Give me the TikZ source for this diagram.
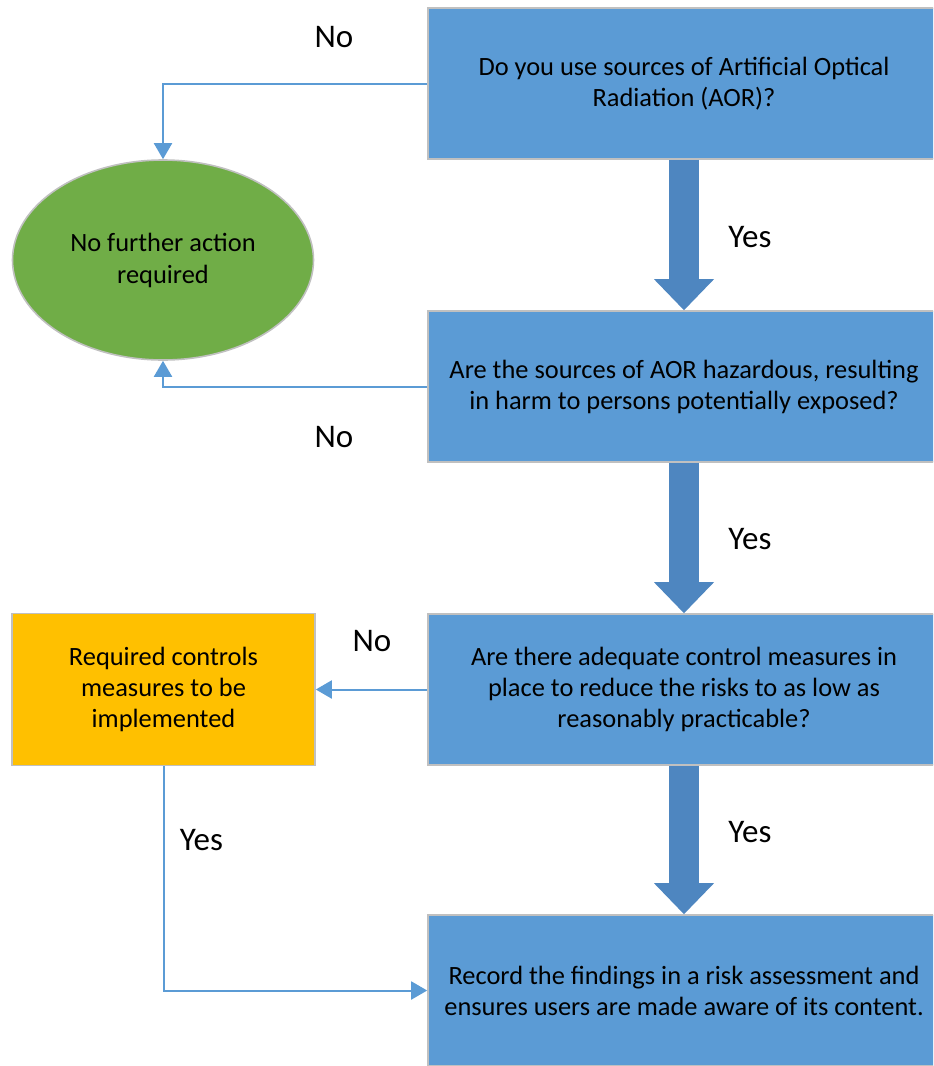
\documentclass[tikz,border=0pt]{standalone}
\usepackage{fontspec}
\setmainfont{Carlito}
\usetikzlibrary{arrows.meta,shapes.geometric}
\definecolor{boxblue}{HTML}{5B9BD5}
\definecolor{arrowblue}{HTML}{4E86C0}
\definecolor{okgreen}{HTML}{70AD47}
\definecolor{todoorange}{HTML}{FFC000}
\definecolor{edgegray}{HTML}{C0C0C0}
\tikzset{
  question/.style={draw=edgegray,fill=boxblue,line width=0.8pt,
    minimum width=256pt,minimum height=75.5pt,inner sep=0pt,
    align=center,font=\fontsize{13.2}{15.5}\selectfont},
  endpoint/.style={ellipse,draw=edgegray,fill=okgreen,line width=0.8pt,
    minimum width=150.5pt,minimum height=100pt,inner sep=0pt,
    align=center,font=\fontsize{13.2}{16}\selectfont},
  actionbox/.style={draw=edgegray,fill=todoorange,line width=0.8pt,
    minimum width=151.5pt,minimum height=76pt,inner sep=0pt,
    align=center,font=\fontsize{13.2}{15.5}\selectfont},
  answer/.style={font=\fontsize{16.5}{18}\selectfont,inner sep=0pt},
  flow/.style={draw=boxblue,line width=1pt,
    -{Triangle[length=8pt,width=9pt]}},
  bigflow/.style={draw=arrowblue,line width=15pt,
    -{Triangle[length=15.5pt,width=30pt,line width=0pt]}},
}
\begin{document}
\begin{tikzpicture}[x=0.5pt,y=-0.5pt]
\useasboundingbox (0,0) rectangle (933,1066);
\clip (0,0) rectangle (933,1066);

% questions down the right
\node [question] (q1) at (684,83.5) {Do you use sources of Artificial Optical\\Radiation (AOR)?};
\node [question] (q2) at (684,386.5) {Are the sources of AOR hazardous, resulting\\in harm to persons potentially exposed?};
\node [question] (q3) at (684,689.5) {Are there adequate control measures in\\place to reduce the risks to as low as\\reasonably practicable?};
\node [question] (rec) at (684,990.5) {Record the findings in a risk assessment and\\ensures users are made aware of its content.};

% outcomes on the left
\node [endpoint] (none) at (163,260) {No further action\\required};
\node [actionbox] (act) at (163.5,689.5) {Required controls\\measures to be\\implemented};

% yes, straight down
\draw [bigflow] (q1.south) -- (q2.north);
\draw [bigflow] (q2.south) -- (q3.north);
\draw [bigflow] (q3.south) -- (rec.north);

% no, off to the left
\draw [flow] (q1.west) -| (none.north);
\draw [flow] (q2.west) -| (none.south);
\draw [flow] (q3.west) -- (act.east);
\draw [flow] (act.south) |- (rec.west);

\node [answer] (no1) at (334,37) {No};
\node [answer] (yes1) at (750,237) {Yes};
\node [answer] (no2) at (334,437) {No};
\node [answer] (yes2) at (750,539) {Yes};
\node [answer] (no3) at (372,641) {No};
\node [answer] (yes3) at (750,832) {Yes};
\node [answer] (yes4) at (201.5,840.5) {Yes};
\end{tikzpicture}
\end{document}
